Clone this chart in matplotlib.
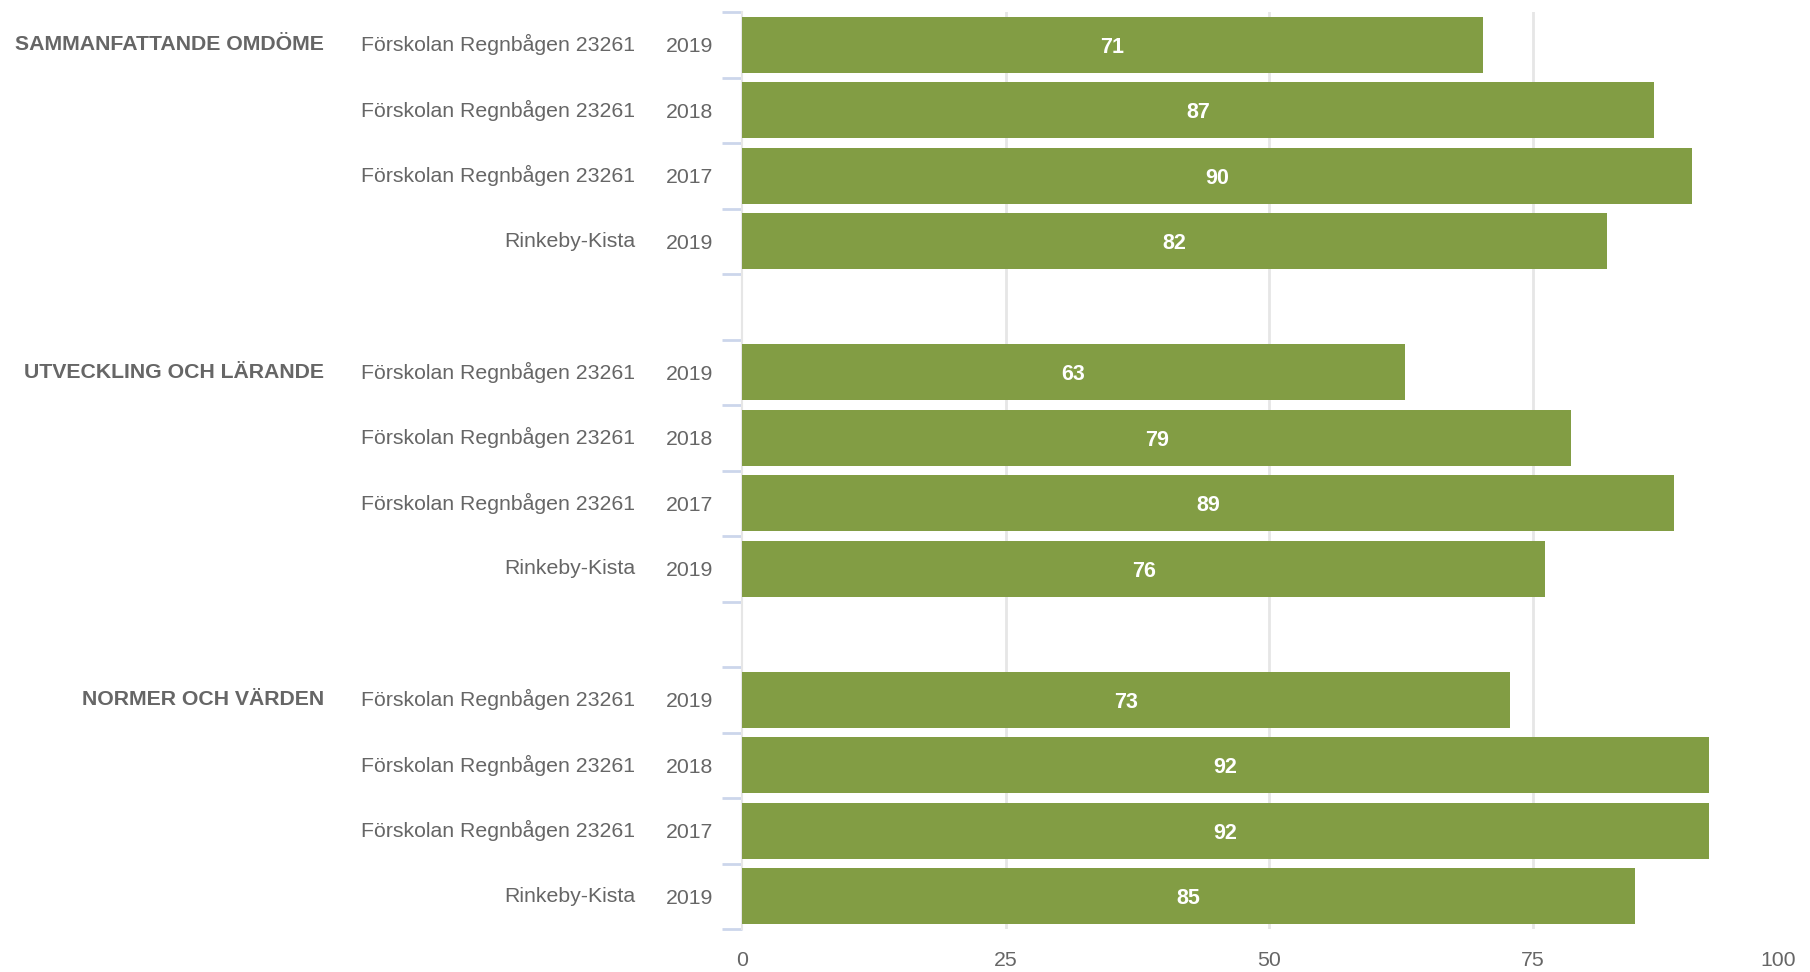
import matplotlib
matplotlib.use("Agg")
import matplotlib.pyplot as plt

# data
groups = ["SAMMANFATTANDE OMDÖME", "UTVECKLING OCH LÄRANDE", "NORMER OCH VÄRDEN"]
units = ["Förskolan Regnbågen 23261", "Förskolan Regnbågen 23261",
         "Förskolan Regnbågen 23261", "Rinkeby-Kista"]
years = ["2019", "2018", "2017", "2019"]

# bar lengths as measured, labels as printed on the bars
values = [
    [70.3, 86.5, 90.1, 82.1],
    [62.9, 78.7, 88.4, 76.2],
    [72.9, 91.7, 91.7, 84.7],
]
labels = [
    ["71", "87", "90", "82"],
    ["63", "79", "89", "76"],
    ["73", "92", "92", "85"],
]
x_ticks = [0, 25, 50, 75, 100]

BAR = "#829d44"
TEXT = "#666666"
GRID = "#e6e6e6"
TICK = "#ccd6eb"

plt.rcParams["font.family"] = ["Liberation Sans", "DejaVu Sans"]

fig = plt.figure(figsize=(18.1, 9.72), dpi=100)
ax = fig.add_axes([742 / 1810, 1 - 929 / 972, 1054 / 1810, 917 / 972])

# one empty slot between groups
slot = 0
pos, vals, labs, yr = [], [], [], []
group_pos = []
for g in range(len(groups)):
    group_pos.append(slot)
    for i in range(len(units)):
        pos.append(slot)
        vals.append(values[g][i])
        labs.append(labels[g][i])
        yr.append(years[i])
        slot += 1
    slot += 1
n_slots = slot - 1

ax.barh(pos, vals, height=0.855, color=BAR, zorder=3)

for p, v, lab in zip(pos, vals, labs):
    ax.text(v / 2, p, lab, ha="center", va="center_baseline", color="white",
            fontsize=15.5, fontweight="bold", zorder=4)

ax.set_xlim(0, 100)
ax.set_ylim(n_slots - 0.5, -0.5)

# x axis
ax.set_xticks(x_ticks)
ax.set_xticklabels([str(t) for t in x_ticks])
ax.tick_params(axis="x", length=0, pad=16, labelsize=15.3, labelcolor=TEXT)
ax.get_xticklabels()[-1].set_ha("right")
ax.xaxis.grid(True, color=GRID, linewidth=2)
ax.set_axisbelow(True)
gls = ax.get_xgridlines()
gls[0].set_visible(False)
gls[-1].set_visible(False)

# y axis: years as tick labels, boundary ticks as minor ticks
ax.set_yticks(pos)
ax.set_yticklabels(yr)
ax.tick_params(axis="y", which="major", length=0, pad=21, labelsize=15.3,
               labelcolor=TEXT)
ax.set_yticks([k - 0.5 for k in range(n_slots + 1)], minor=True)
ax.tick_params(axis="y", which="minor", length=14.4, width=2, color=TICK)

for p, u in zip(pos, units * len(groups)):
    ax.annotate(u, xy=(0, p), xycoords=ax.get_yaxis_transform(),
                xytext=(-77, 0), textcoords="offset points",
                ha="right", va="center", fontsize=15.3, color=TEXT)

for p, g in zip(group_pos, groups):
    ax.annotate(g, xy=(0, p), xycoords=ax.get_yaxis_transform(),
                xytext=(-301, 0), textcoords="offset points",
                ha="right", va="center", fontsize=15.3, color=TEXT,
                fontweight="bold")

for side in ["top", "right", "bottom"]:
    ax.spines[side].set_visible(False)
ax.spines["left"].set_color(GRID)
ax.spines["left"].set_linewidth(1.5)

fig.savefig("out.png", dpi=100)
